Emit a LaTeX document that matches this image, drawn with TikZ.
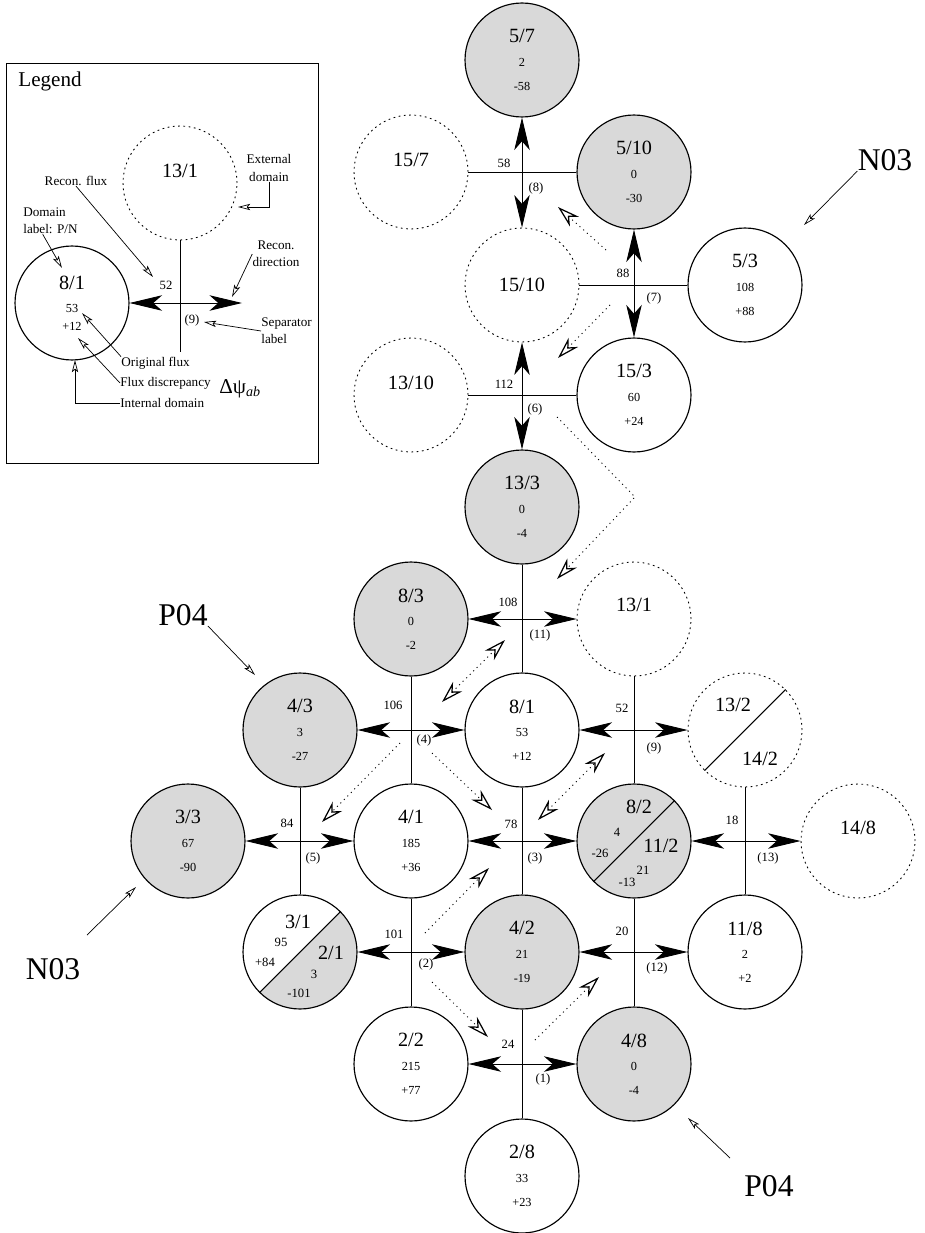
\documentclass[tikz,border=0pt]{standalone}
\usepackage{fontspec}
\setmainfont{Liberation Serif}
\usetikzlibrary{arrows.meta}

\newcommand{\dlab}[1]{{\fontsize{11.5}{13.5}\selectfont #1}}

\tikzset{
  fluxtip/.tip={Stealth[length=18.5pt,width=8.8pt,inset=5pt]},
  recontip/.tip={Stealth[open,length=12.5pt,width=7.5pt,inset=4pt,line width=0.7pt]},
  notetip/.tip={Stealth[open,length=7pt,width=3.6pt,inset=1.5pt]},
  dom/.style={circle,draw,line width=0.65pt,minimum size=2.28cm,inner sep=0pt,align=center,font=\fontsize{7}{13.5}\selectfont},
  indom/.style={dom,fill=white},
  gdom/.style={dom,fill=gray!30},
  exdom/.style={dom,line width=0.5pt,dash pattern=on 1pt off 2pt},
  sepline/.style={line width=0.5pt},
  flux/.style={line width=0.5pt,fluxtip-fluxtip},
  recon/.style={line width=0.5pt,dash pattern=on 0.6pt off 2.2pt,-recontip},
  recontwo/.style={recon,recontip-recontip},
  note/.style={line width=0.4pt,-notetip},
  num/.style={inner sep=0pt,font=\fontsize{7.2}{8}\selectfont},
  legtxt/.style={inner sep=0pt,font=\fontsize{7.5}{9.7}\selectfont},
  bigtxt/.style={inner sep=0pt,font=\fontsize{18}{20}\selectfont},
}

\begin{document}
\begin{tikzpicture}[x=0.02cm,y=-0.02cm]
\useasboundingbox (0,0) rectangle (924,1233);

% legend
\draw[line width=0.5pt] (6,63) rectangle (318,463);
\node[inner sep=0pt,font=\fontsize{12}{14}\selectfont] (leg) at (50,81) {Legend};
\node[exdom] (l131) at (180,183) {\dlab{13/1}\\\mbox{}};
\node[indom] (l81) at (72,303) {\dlab{8/1}\\53\\[-3.5pt]+12};
\coordinate (lfx) at (242,303);
\coordinate (lsp) at (180,352);
\draw[sepline] (l131) -- (lsp);
\draw[flux] (l81) -- (lfx);
\node[num] (l52) at (166,285) {52};
\node[num] (l9) at (192,320) {(9)};

\node[legtxt,align=center] (tExt) at (269,168) {External\\domain};
\node[legtxt] (tRf) at (76,181) {Recon. flux};
\node[legtxt,align=left,anchor=west] (tDl) at (23,221) {Domain\\label: P/N};
\node[legtxt,align=center] (tRd) at (276,254) {Recon.\\direction};
\node[legtxt,align=left,anchor=west] (tSl) at (261,331) {Separator\\label};
\node[legtxt,anchor=west] (tOf) at (121,363) {Original flux};
\node[legtxt,anchor=west] (tFd) at (120,383) {Flux discrepancy};
\node[legtxt,anchor=west] (tId) at (120,403) {Internal domain};
\node[inner sep=0pt,anchor=west,font=\fontsize{12}{14}\selectfont] (tDp) at (219,389) {Δψ\textsubscript{\textit{ab}}};

\coordinate (le1) at (238,207);
\coordinate (le2) at (153,277);
\coordinate (le3) at (62,268);
\coordinate (le4) at (232,297);
\coordinate (le5) at (204,322);
\coordinate (le6) at (82,313);
\coordinate (le7) at (78,338);
\coordinate (le8) at (75,360);
\draw[note] (tExt.south) |- (le1);
\draw[note] (tRf.south) -- (le2);
\draw[note] (tDl.240) -- (le3);
\draw[note] (tRd.west) -- (le4);
\draw[note] (tSl.west) -- (le5);
\draw[note] (tOf.north west) -- (le6);
\draw[note] (tFd.west) -- (le7);
\draw[note] (tId.west) -| (le8);

% split domains, shaded halves first
\fill[gray!30] (300,952) ++(45:1.14cm) arc[start angle=45,end angle=-135,radius=1.14cm] -- cycle;

% domains
\node[gdom] (d57) at (522,60) {\dlab{5/7}\\2\\-58};
\node[exdom] (d157) at (411,172) {\dlab{15/7}\\\mbox{}};
\node[gdom] (d510) at (634,172) {\dlab{5/10}\\0\\-30};
\node[exdom] (d1510) at (522,285) {\dlab{15/10}};
\node[indom] (d53) at (745,285) {\dlab{5/3}\\108\\+88};
\node[exdom] (d1310) at (411,395) {\dlab{13/10}\\\mbox{}};
\node[indom] (d153) at (634,395) {\dlab{15/3}\\60\\+24};
\node[gdom] (d133) at (522,507) {\dlab{13/3}\\0\\-4};
\node[gdom] (d83) at (411,619) {\dlab{8/3}\\0\\-2};
\node[exdom] (d131) at (634,619) {\dlab{13/1}\\[3pt]\mbox{}};
\node[gdom] (d43) at (300,730) {\dlab{4/3}\\3\\-27};
\node[indom] (d81) at (522,730) {\dlab{8/1}\\53\\+12};
\node[exdom] (d132) at (745,730) {};
\node[gdom] (d33) at (188,841) {\dlab{3/3}\\67\\-90};
\node[indom] (d41) at (411,841) {\dlab{4/1}\\185\\+36};
\node[gdom] (d82) at (634,841) {};
\node[exdom] (d148) at (858,841) {\dlab{14/8}\\[2pt]\mbox{}};
\node[dom] (d31) at (300,952) {};
\node[gdom] (d42) at (522,952) {\dlab{4/2}\\21\\-19};
\node[indom] (d118) at (745,952) {\dlab{11/8}\\2\\+2};
\node[indom] (d22) at (411,1064) {\dlab{2/2}\\215\\+77};
\node[gdom] (d48) at (634,1064) {\dlab{4/8}\\0\\-4};
\node[indom] (d28) at (522,1176) {\dlab{2/8}\\33\\+23};

% split labels
\draw[line width=0.6pt] (d132.225) -- (d132.45);
\node[inner sep=0pt] (s132a) at (733,705) {\dlab{13/2}};
\node[inner sep=0pt] (s132b) at (760,759) {\dlab{14/2}};
\draw[line width=0.6pt] (d82.225) -- (d82.45);
\node[inner sep=0pt] (s82a) at (639,807) {\dlab{8/2}};
\node[num] (s82b) at (617,832) {4};
\node[num] (s82c) at (600,853) {-26};
\node[inner sep=0pt] (s112a) at (661,846) {\dlab{11/2}};
\node[num] (s112b) at (643,870) {21};
\node[num] (s112c) at (627,882) {-13};
\draw[line width=0.6pt] (d31.225) -- (d31.45);
\node[inner sep=0pt] (s31a) at (298,922) {\dlab{3/1}};
\node[num] (s31b) at (281,942) {95};
\node[num] (s31c) at (265,962) {+84};
\node[inner sep=0pt] (s21a) at (331,953) {\dlab{2/1}};
\node[num] (s21b) at (314,974) {3};
\node[num] (s21c) at (299,993) {-101};

% separators, upper part
\draw[sepline] (d157) -- (d510);
\draw[flux] (d57) -- (d1510);
\draw[sepline] (d1510) -- (d53);
\draw[flux] (d510) -- (d153);
\draw[sepline] (d1310) -- (d153);
\draw[flux] (d1510) -- (d133);
\node[num] (f8) at (504,163) {58};
\node[num] (p8) at (536,188) {(8)};
\node[num] (f7) at (623,273) {88};
\node[num] (p7) at (654,298) {(7)};
\node[num] (f6) at (504,384) {112};
\node[num] (p6) at (535,409) {(6)};

% separators, lower part
\draw[sepline] (d133) -- (d81);
\draw[flux] (d83) -- (d131);
\draw[sepline] (d83) -- (d41);
\draw[flux] (d43) -- (d81);
\draw[sepline] (d131) -- (d82);
\draw[flux] (d81) -- (d132);
\draw[sepline] (d43) -- (d31);
\draw[flux] (d33) -- (d41);
\draw[sepline] (d81) -- (d42);
\draw[flux] (d41) -- (d82);
\draw[sepline] (d132) -- (d118);
\draw[flux] (d82) -- (d148);
\draw[sepline] (d41) -- (d22);
\draw[flux] (d31) -- (d42);
\draw[sepline] (d82) -- (d48);
\draw[flux] (d42) -- (d118);
\draw[sepline] (d42) -- (d28);
\draw[flux] (d22) -- (d48);
\node[num] (f11) at (508,602) {108};
\node[num] (p11) at (540,635) {(11)};
\node[num] (f4) at (393,705) {106};
\node[num] (p4) at (424,740) {(4)};
\node[num] (f9) at (622,708) {52};
\node[num] (p9) at (654,748) {(9)};
\node[num] (f5) at (287,823) {84};
\node[num] (p5) at (313,858) {(5)};
\node[num] (f3) at (511,824) {78};
\node[num] (p3) at (535,858) {(3)};
\node[num] (f13) at (732,820) {18};
\node[num] (p13) at (768,858) {(13)};
\node[num] (f2) at (394,934) {101};
\node[num] (p2) at (426,964) {(2)};
\node[num] (f12) at (622,931) {20};
\node[num] (p12) at (657,968) {(12)};
\node[num] (f1) at (508,1044) {24};
\node[num] (p1) at (543,1079) {(1)};

% reconnection path
\coordinate (r1a) at (606,250); \coordinate (r1b) at (558,207);
\coordinate (r2a) at (610,305); \coordinate (r2b) at (558,358);
\coordinate (r3a) at (557,417); \coordinate (r3m) at (635,497); \coordinate (r3b) at (557,579);
\coordinate (r4a) at (442,702); \coordinate (r4b) at (505,640);
\coordinate (r5a) at (400,743); \coordinate (r5b) at (322,822);
\coordinate (r6a) at (432,753); \coordinate (r6b) at (492,810);
\coordinate (r7a) at (425,933); \coordinate (r7b) at (489,868);
\coordinate (r8a) at (538,820); \coordinate (r8b) at (605,753);
\coordinate (r9a) at (432,982); \coordinate (r9b) at (488,1037);
\coordinate (r10a) at (535,1040); \coordinate (r10b) at (599,977);
\draw[recon] (r1a) -- (r1b);
\draw[recon] (r2a) -- (r2b);
\draw[recon] (r3a) -- (r3m) -- (r3b);
\draw[recontwo] (r4a) -- (r4b);
\draw[recon] (r5a) -- (r5b);
\draw[recon] (r6a) -- (r6b);
\draw[recon] (r7a) -- (r7b);
\draw[recontwo] (r8a) -- (r8b);
\draw[recon] (r9a) -- (r9b);
\draw[recon] (r10a) -- (r10b);

% null labels
\node[bigtxt] (n03a) at (885,160) {N03};
\node[bigtxt] (p04a) at (183,615) {P04};
\node[bigtxt] (n03b) at (53,969) {N03};
\node[bigtxt] (p04b) at (769,1186) {P04};
\coordinate (n03ah) at (804,225);
\coordinate (p04ah) at (255,675);
\coordinate (n03bt) at (87,935);
\coordinate (n03bh) at (136,887);
\coordinate (p04bt) at (730,1158);
\coordinate (p04bh) at (688,1118);
\draw[note] (n03a.south west) -- (n03ah);
\draw[note] (p04a.south east) -- (p04ah);
\draw[note] (n03bt) -- (n03bh);
\draw[note] (p04bt) -- (p04bh);
\end{tikzpicture}
\end{document}
